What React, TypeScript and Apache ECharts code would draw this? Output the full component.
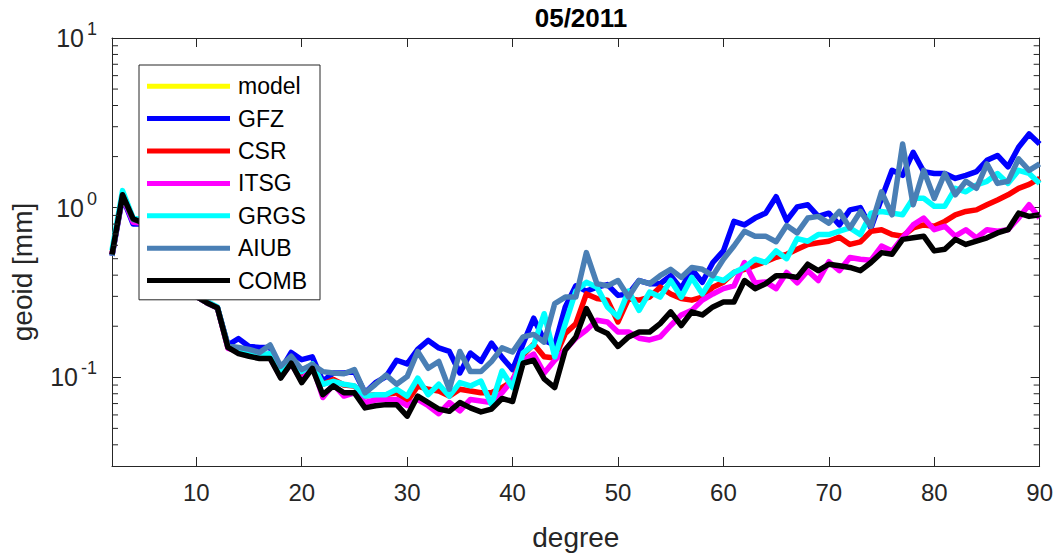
import React, { useEffect, useRef } from "react";
import * as echarts from "echarts";

// spherical harmonic degrees 2..90
const DEG_MIN = 2;
const DEG_MAX = 90;
const DEGREES: number[] = [];
for (let d = DEG_MIN; d <= DEG_MAX; d++) DEGREES.push(d);

const SERIES_NAMES = ["model", "GFZ", "CSR", "ITSG", "GRGS", "AIUB", "COMB"];
const SERIES_COLORS = ["#ffff00", "#0000ff", "#ff0000", "#ff00ff", "#00ffff", "#4a7fb5", "#000000"];

// model curve is not visible in the picture (only its legend entry)
const MODEL: number[] = [];

const GFZ = [
  0.52, 1.15, 0.80, 0.80, 0.62, 0.56, 0.47, 0.40, 0.30, 0.275,
  0.257, 0.155, 0.169, 0.152, 0.150, 0.150, 0.110, 0.140, 0.127, 0.132,
  0.095, 0.106, 0.106, 0.108, 0.081, 0.093, 0.101, 0.126, 0.120, 0.146,
  0.165, 0.149, 0.142, 0.106, 0.139, 0.124, 0.159, 0.131, 0.111, 0.158,
  0.223, 0.165, 0.155, 0.260, 0.346, 0.322, 0.340, 0.352, 0.304, 0.310,
  0.372, 0.356, 0.356, 0.397, 0.333, 0.433, 0.363, 0.475, 0.556, 0.83,
  0.791, 0.868, 0.928, 1.16, 0.84, 1.01, 1.04, 0.888, 0.928, 0.791,
  0.97, 1.00, 0.759, 1.135, 1.66, 1.55, 2.12, 1.63, 1.59, 1.59,
  1.486, 1.55, 1.63, 1.90, 2.03, 1.74, 2.27, 2.72, 2.37,
];

const CSR = [
  0.53, 1.18, 0.84, 0.82, 0.63, 0.57, 0.47, 0.40, 0.30, 0.275,
  0.257, 0.150, 0.145, 0.138, 0.135, 0.133, 0.102, 0.124, 0.100, 0.120,
  0.091, 0.097, 0.090, 0.0887, 0.0775, 0.079, 0.079, 0.081, 0.072, 0.0887,
  0.085, 0.083, 0.0775, 0.085, 0.083, 0.081, 0.081, 0.087, 0.095, 0.135,
  0.157, 0.132, 0.130, 0.181, 0.207, 0.310, 0.291, 0.285, 0.212, 0.291,
  0.285, 0.297, 0.340, 0.310, 0.291, 0.285, 0.297, 0.340, 0.363, 0.415,
  0.433, 0.457, 0.48, 0.51, 0.531, 0.568, 0.607, 0.621, 0.634, 0.67,
  0.607, 0.628, 0.726, 0.741, 0.694, 0.679, 0.759, 0.791, 0.776, 0.83,
  0.907, 0.95, 0.97, 1.04, 1.11, 1.19, 1.30, 1.37, 1.486,
];

const ITSG = [
  0.53, 1.17, 0.82, 0.81, 0.62, 0.56, 0.47, 0.40, 0.30, 0.275,
  0.257, 0.148, 0.142, 0.135, 0.133, 0.130, 0.100, 0.121, 0.095, 0.118,
  0.076, 0.091, 0.0775, 0.081, 0.071, 0.0735, 0.074, 0.074, 0.068, 0.074,
  0.068, 0.061, 0.071, 0.0634, 0.074, 0.0725, 0.071, 0.081, 0.097, 0.125,
  0.137, 0.106, 0.126, 0.145, 0.170, 0.190, 0.217, 0.212, 0.185, 0.185,
  0.170, 0.166, 0.173, 0.202, 0.233, 0.248, 0.285, 0.310, 0.333, 0.346,
  0.475, 0.36, 0.365, 0.333, 0.415, 0.36, 0.425, 0.372, 0.48, 0.425,
  0.508, 0.497, 0.49, 0.594, 0.556, 0.664, 0.791, 0.868, 0.741, 0.776,
  0.679, 0.741, 0.664, 0.741, 0.726, 0.741, 0.868, 1.04, 0.868,
];

const GRGS = [
  0.56, 1.26, 0.87, 0.84, 0.64, 0.58, 0.48, 0.41, 0.31, 0.28,
  0.26, 0.152, 0.148, 0.140, 0.135, 0.138, 0.105, 0.128, 0.108, 0.120,
  0.091, 0.0947, 0.091, 0.089, 0.0775, 0.079, 0.079, 0.085, 0.0775, 0.099,
  0.079, 0.091, 0.0775, 0.093, 0.089, 0.095, 0.069, 0.109, 0.087, 0.139,
  0.155, 0.237, 0.132, 0.207, 0.322, 0.363, 0.340, 0.260, 0.227, 0.322,
  0.248, 0.318, 0.297, 0.372, 0.297, 0.388, 0.310, 0.388, 0.372, 0.415,
  0.444, 0.497, 0.475, 0.556, 0.50, 0.657, 0.634, 0.694, 0.694, 0.726,
  0.759, 0.694, 0.928, 0.95, 0.928, 0.907, 1.135, 1.135, 1.02, 1.02,
  1.30, 1.24, 1.36, 1.43, 1.59, 1.39, 1.66, 1.59, 1.39,
];

const AIUB = [
  0.52, 1.18, 0.85, 0.82, 0.63, 0.57, 0.47, 0.40, 0.30, 0.275,
  0.257, 0.153, 0.150, 0.146, 0.140, 0.155, 0.116, 0.133, 0.111, 0.119,
  0.108, 0.106, 0.105, 0.111, 0.081, 0.091, 0.103, 0.091, 0.101, 0.142,
  0.113, 0.124, 0.085, 0.142, 0.108, 0.108, 0.124, 0.149, 0.141, 0.173,
  0.179, 0.161, 0.272, 0.297, 0.297, 0.543, 0.356, 0.346, 0.372, 0.297,
  0.372, 0.356, 0.397, 0.433, 0.388, 0.444, 0.433, 0.397, 0.497, 0.594,
  0.726, 0.679, 0.679, 0.63, 0.784, 0.71, 0.868, 0.888, 0.811, 0.95,
  0.759, 0.95, 0.776, 1.24, 0.907, 2.37, 1.04, 1.66, 1.135, 1.59,
  1.19, 1.43, 1.30, 1.81, 1.39, 1.43, 1.94, 1.66, 1.81,
];

const COMB = [
  0.53, 1.19, 0.86, 0.81, 0.63, 0.57, 0.47, 0.40, 0.30, 0.275,
  0.257, 0.150, 0.138, 0.133, 0.129, 0.129, 0.099, 0.121, 0.093, 0.113,
  0.079, 0.089, 0.081, 0.081, 0.066, 0.068, 0.069, 0.069, 0.059, 0.0775,
  0.071, 0.065, 0.063, 0.071, 0.066, 0.0625, 0.065, 0.075, 0.072, 0.121,
  0.126, 0.098, 0.087, 0.145, 0.173, 0.254, 0.194, 0.181, 0.152, 0.173,
  0.185, 0.185, 0.207, 0.243, 0.202, 0.243, 0.233, 0.260, 0.278, 0.278,
  0.372, 0.333, 0.356, 0.397, 0.397, 0.388, 0.464, 0.425, 0.464, 0.455,
  0.444, 0.425, 0.475, 0.543, 0.531, 0.65, 0.664, 0.679, 0.556, 0.568,
  0.65, 0.607, 0.634, 0.664, 0.709, 0.741, 0.928, 0.888, 0.907,
];

const SERIES_VALUES = [MODEL, GFZ, CSR, ITSG, GRGS, AIUB, COMB];

const X_TICKS = [10, 20, 30, 40, 50, 60, 70, 80, 90];
const Y_MIN = 0.03;
const Y_MAX = 10;
const Y_MINOR_TICKS = [
  0.04, 0.05, 0.06, 0.07, 0.08, 0.09,
  0.2, 0.3, 0.4, 0.5, 0.6, 0.7, 0.8, 0.9,
  2, 3, 4, 5, 6, 7, 8, 9,
];

const TITLE = "05/2011";
const X_NAME = "degree";
const Y_NAME = "geoid [mm]";

const FONT = "'Liberation Sans', Arial, Helvetica, sans-serif";
const AXIS_COLOR = "#262626";

export default function App() {
  const ref = useRef<HTMLDivElement>(null);

  useEffect(() => {
    if (!ref.current) return;
    const chart = echarts.init(ref.current, undefined, { renderer: "svg" });

    const axisLine = { show: true, onZero: false, lineStyle: { color: AXIS_COLOR, width: 1 } };
    const tickStyle = { color: AXIS_COLOR, width: 1 };

    const lineSeries = SERIES_NAMES.map((name, k) => ({
      name,
      type: "line",
      xAxisIndex: 0,
      yAxisIndex: 0,
      data: SERIES_VALUES[k].map((v, i) => [DEGREES[i], v]),
      showSymbol: false,
      symbol: "none",
      color: SERIES_COLORS[k],
      itemStyle: { color: SERIES_COLORS[k] },
      lineStyle: { color: SERIES_COLORS[k], width: 5.5, join: "round", cap: "butt" },
      z: 2 + k * 0.01,
      silent: true,
    }));

    const minorTickSeries = {
      type: "custom",
      name: "minorTicks",
      silent: true,
      xAxisIndex: 0,
      yAxisIndex: 0,
      clip: false,
      z: 20,
      data: Y_MINOR_TICKS.map((v) => [DEG_MIN, v]),
      renderItem: (_params: any, api: any) => {
        const v = api.value(1);
        const l = api.coord([DEG_MIN, v]);
        const r = api.coord([DEG_MAX, v]);
        return {
          type: "group",
          children: [
            { type: "line", shape: { x1: l[0], y1: l[1], x2: l[0] + 6, y2: l[1] }, style: { stroke: AXIS_COLOR, lineWidth: 1 } },
            { type: "line", shape: { x1: r[0], y1: r[1], x2: r[0] - 6, y2: r[1] }, style: { stroke: AXIS_COLOR, lineWidth: 1 } },
          ],
        };
      },
    };

    const yFormatter = (v: number) => {
      const lg = Math.log10(v);
      const e = Math.round(lg);
      if (Math.abs(lg - e) > 1e-6) return "";
      return `{base|10}{sup|${e}}`;
    };

    const option: any = {
      animation: false,
      backgroundColor: "#ffffff",
      title: {
        text: TITLE,
        left: 576,
        top: 0,
        textAlign: "center",
        textStyle: { fontFamily: FONT, fontSize: 26, fontWeight: "bold", color: "#000" },
      },
      graphic: [
        {
          type: "text",
          x: 22,
          y: 272,
          rotation: Math.PI / 2,
          silent: true,
          style: {
            text: Y_NAME,
            fontFamily: FONT,
            fontSize: 28,
            fill: AXIS_COLOR,
            align: "center",
            verticalAlign: "middle",
          },
        },
      ],
      legend: {
        data: SERIES_NAMES,
        orient: "vertical",
        left: 139,
        top: 65,
        icon: "rect",
        itemWidth: 83,
        itemHeight: 5,
        itemGap: 8,
        padding: [9, 13, 7, 8],
        backgroundColor: "#ffffff",
        borderColor: AXIS_COLOR,
        borderWidth: 1,
        borderRadius: 0,
        selectedMode: false,
        textStyle: { fontFamily: FONT, fontSize: 23, color: "#000", lineHeight: 24.4, padding: [0, 0, 0, 3] },
      },
      grid: { left: 112, right: 15, top: 38, bottom: 87, containLabel: false },
      xAxis: [
        {
          type: "value",
          min: DEG_MIN,
          max: DEG_MAX,
          position: "bottom",
          axisLine,
          axisTick: { show: true, inside: true, length: 9, customValues: X_TICKS, lineStyle: tickStyle },
          axisLabel: { customValues: X_TICKS, fontFamily: FONT, fontSize: 24, color: AXIS_COLOR, margin: 14 },
          splitLine: { show: false },
          name: X_NAME,
          nameLocation: "middle",
          nameGap: 57,
          nameTextStyle: { fontFamily: FONT, fontSize: 28, color: AXIS_COLOR },
        },
        {
          type: "value",
          min: DEG_MIN,
          max: DEG_MAX,
          position: "top",
          axisLine,
          axisTick: { show: true, inside: true, length: 9, customValues: X_TICKS, lineStyle: tickStyle },
          axisLabel: { show: false },
          splitLine: { show: false },
        },
      ],
      yAxis: [
        {
          type: "log",
          logBase: 10,
          min: Y_MIN,
          max: Y_MAX,
          position: "left",
          axisLine,
          axisTick: { show: true, inside: true, length: 9, lineStyle: tickStyle },
          axisLabel: {
            formatter: yFormatter,
            margin: 15,
            color: AXIS_COLOR,
            rich: {
              base: { fontFamily: FONT, fontSize: 25, color: AXIS_COLOR, lineHeight: 36, verticalAlign: "middle" },
              sup: { fontFamily: FONT, fontSize: 18, color: AXIS_COLOR, lineHeight: 16, verticalAlign: "top", padding: [0, 0, 0, 3] },
            },
          },
          splitLine: { show: false },
          minorTick: { show: false },
        },
        {
          type: "log",
          logBase: 10,
          min: Y_MIN,
          max: Y_MAX,
          position: "right",
          axisLine,
          axisTick: { show: true, inside: true, length: 9, lineStyle: tickStyle },
          axisLabel: { show: false },
          splitLine: { show: false },
        },
      ],
      series: [...lineSeries, minorTickSeries],
    };

    chart.setOption(option);
    return () => chart.dispose();
  }, []);

  return (
    <div
      ref={ref}
      style={{ position: "fixed", left: 0, top: 0, width: 1056, height: 556, background: "#fff" }}
    />
  );
}
